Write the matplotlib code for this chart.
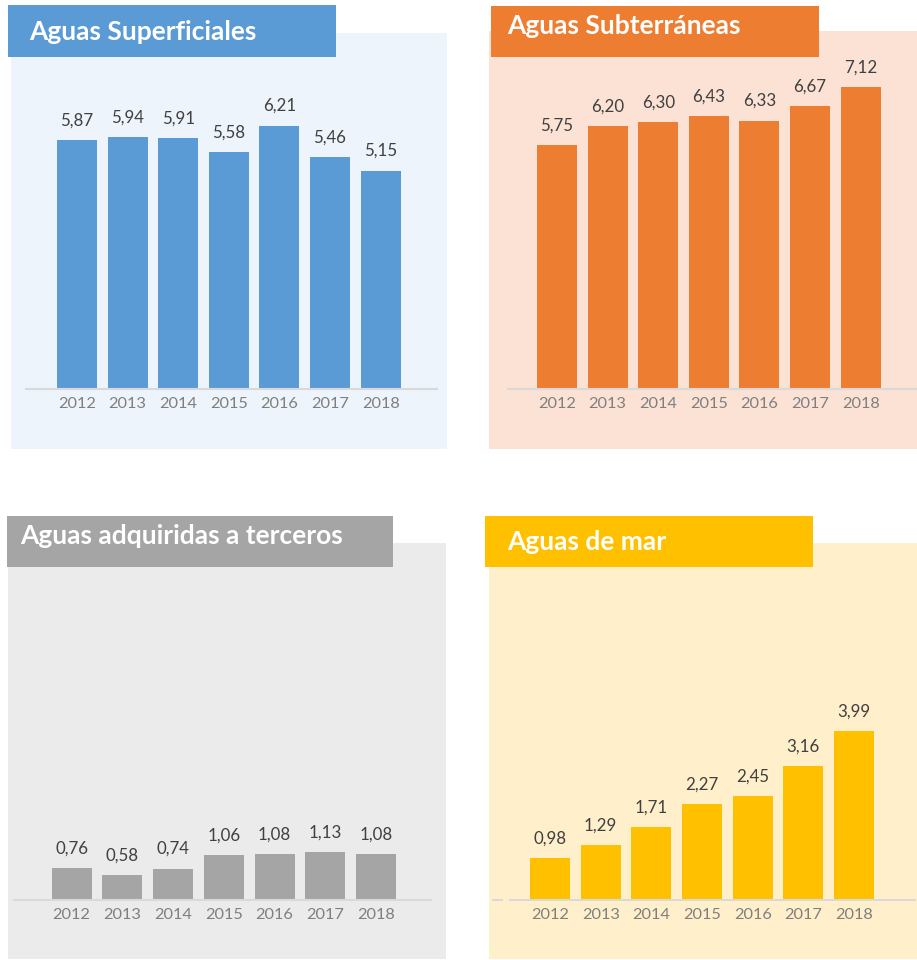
import numpy as np
import matplotlib
matplotlib.use('Agg')
import matplotlib.pyplot as plt
from matplotlib.patches import Rectangle
from matplotlib.lines import Line2D

plt.rcParams['font.family'] = ['Lato', 'DejaVu Sans']

# datos (hm3 por año)
years = ['2012', '2013', '2014', '2015', '2016', '2017', '2018']
superficiales = [5.87, 5.94, 5.91, 5.58, 6.21, 5.46, 5.15]
subterraneas = [5.75, 6.20, 6.30, 6.43, 6.33, 6.67, 7.12]
terceros = [0.76, 0.58, 0.74, 1.06, 1.08, 1.13, 1.08]
mar = [0.98, 1.29, 1.71, 2.27, 2.45, 3.16, 3.99]

titles = ['Aguas Superficiales', 'Aguas Subterráneas',
          'Aguas adquiridas a terceros', 'Aguas de mar']
series = [superficiales, subterraneas, terceros, mar]
bar_colors = ['#5B9BD5', '#ED7D31', '#A5A5A5', '#FFC000']
bg_colors = ['#EDF4FB', '#FBE2D5', '#EBEBEB', '#FFF0CB']

W, H = 917, 960
PX_PER_UNIT = 42.4

# maquetación en píxeles (x0, y0, x1, y1 medidos desde arriba)
layout = [
    dict(bg=(11, 33, 447, 449), box=(8, 5, 336, 57), text=(29, 39.5),
         base=(26, 437, 389), c0=77, pitch=50.6),
    dict(bg=(489, 31, 917, 449), box=(491, 6, 819, 57), text=(507, 34.5),
         base=(508, 917, 389), c0=557, pitch=50.6),
    dict(bg=(8, 543, 446, 959), box=(7, 516, 393, 567), text=(20, 544.5),
         base=(14, 431, 900), c0=71.5, pitch=50.75),
    dict(bg=(489, 543, 917, 959), box=(485, 516, 813, 567), text=(507, 549.5),
         base=(510, 915, 900), c0=550, pitch=50.67),
]


def fig_rect(x0, y0, x1, y1, **kw):
    return Rectangle((x0 / W, 1 - y1 / H), (x1 - x0) / W, (y1 - y0) / H,
                     transform=fig.transFigure, **kw)


fig = plt.figure(figsize=(W / 100, H / 100), dpi=100)

for title, vals, bc, bgc, lay in zip(titles, series, bar_colors, bg_colors, layout):
    fig.add_artist(fig_rect(*lay['bg'], facecolor=bgc, edgecolor='none', zorder=-2))
    fig.add_artist(fig_rect(*lay['box'], facecolor=bc, edgecolor='none', zorder=3))
    tx, ty = lay['text']
    fig.text(tx / W, 1 - ty / H, title, color='white', fontsize=19,
             fontweight='bold', ha='left', va='baseline', zorder=4)

    bx0, bx1, by = lay['base']
    ymax = 8.0
    ax = fig.add_axes([bx0 / W, 1 - by / H, (bx1 - bx0) / W,
                       ymax * PX_PER_UNIT / H])
    ax.set_facecolor('none')
    x = np.arange(len(years))
    bars = ax.bar(x, vals, width=40 / lay['pitch'], color=bc, edgecolor='none')
    for b, v in zip(bars, vals):
        ax.annotate(f'{v:.2f}'.replace('.', ','),
                    (b.get_x() + b.get_width() / 2, v),
                    xytext=(0, 10.5), textcoords='offset points',
                    ha='center', va='baseline', fontsize=12.2, color='#404040')
    ax.set_xlim((bx0 - lay['c0']) / lay['pitch'], (bx1 - lay['c0']) / lay['pitch'])
    ax.set_ylim(0, ymax)
    ax.set_xticks(x)
    ax.set_xticklabels(years, fontsize=11.8, color='#7F7F7F')
    ax.tick_params(axis='x', length=0, pad=6)
    ax.set_yticks([])
    for s in ['top', 'left', 'right']:
        ax.spines[s].set_visible(False)
    ax.spines['bottom'].set_color('#D9D9D9')
    ax.spines['bottom'].set_linewidth(1.5)

# pequeño trazo suelto a la izquierda del eje de "Aguas de mar"
fig.add_artist(Line2D([493 / W, 502 / W], [1 - 900 / H, 1 - 900 / H],
                      transform=fig.transFigure, color='#D9D9D9', linewidth=1.5))

fig.savefig('out.png', dpi=100, facecolor='white')
